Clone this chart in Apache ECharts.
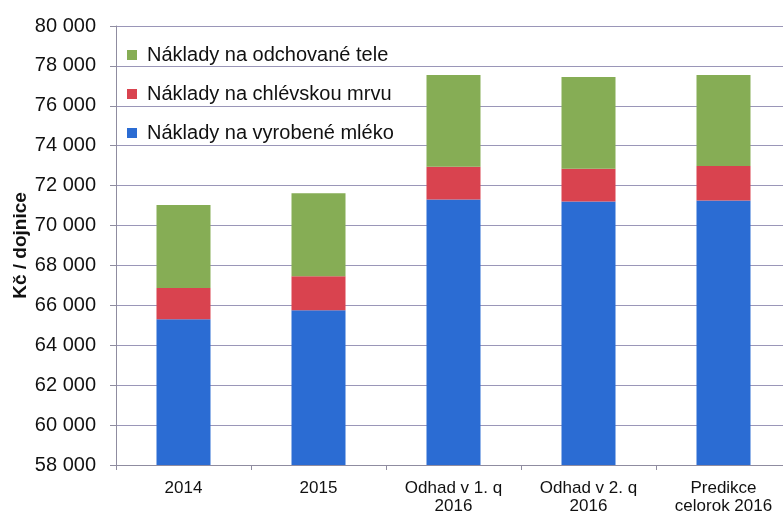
<!DOCTYPE html>
<html>
<head>
<meta charset="utf-8">
<script src="https://cdn.jsdelivr.net/npm/echarts@6/dist/echarts.min.js"></script>
<style>
  html, body { margin: 0; padding: 0; background: #fff; }
  #main { width: 783px; height: 512px; }
</style>
</head>
<body>
<div id="main"></div>
<script>
// kategorie a hodnoty (Kč / dojnice), odčítané z grafu
const categories = ['2014', '2015', 'Odhad v 1. q\n2016', 'Odhad v 2. q\n2016', 'Predikce\ncelorok 2016'];
const mlieko = [65300, 65750, 71300, 71200, 71250];
const mrva = [1570, 1710, 1650, 1650, 1740];
const tele = [4160, 4160, 4600, 4600, 4560];
const seriesNames = ['Náklady na vyrobené mléko', 'Náklady na chlévskou mrvu', 'Náklady na odchované tele'];
const colors = ['#2b6cd3', '#d9434f', '#86ad55'];

const chart = echarts.init(document.getElementById('main'));
const font = 'Arial, "Liberation Sans", sans-serif';

const mkSeries = (name, data, color) => ({
  name: name,
  type: 'bar',
  stack: 'naklady',
  barWidth: 54,
  data: data,
  itemStyle: { color: color },
  emphasis: { disabled: true }
});

chart.setOption({
  animation: false,
  textStyle: { fontFamily: font },
  grid: { left: 116, top: 26, bottom: 47, width: 675, outerBoundsMode: 'none', containLabel: false },
  legend: {
    left: 122,
    top: 40,
    orient: 'vertical',
    itemWidth: 10,
    itemHeight: 10,
    itemGap: 19,
    icon: 'rect',
    data: [seriesNames[2], seriesNames[1], seriesNames[0]],
    textStyle: { fontSize: 20, color: '#111', fontFamily: font, padding: [0, 0, 0, 5] }
  },
  xAxis: {
    type: 'category',
    data: categories,
    axisLine: { lineStyle: { color: '#8f8ca0' } },
    axisTick: { show: true, length: 5, lineStyle: { color: '#8f8ca0' } },
    axisLabel: { fontSize: 17, color: '#111', lineHeight: 18, margin: 14 }
  },
  yAxis: {
    type: 'value',
    min: 58000,
    max: 80000,
    interval: 2000,
    name: 'Kč / dojnice',
    nameLocation: 'middle',
    nameGap: 86,
    nameMoveOverlap: false,
    nameTextStyle: { fontSize: 19, fontWeight: 'bold', color: '#111' },
    axisLine: { show: true, lineStyle: { color: '#8f8ca0' } },
    axisTick: { show: true, length: 6, lineStyle: { color: '#8f8ca0' } },
    splitLine: { lineStyle: { color: '#9a96b8', width: 1 } },
    axisLabel: {
      fontSize: 20,
      color: '#111',
      margin: 20,
      formatter: v => String(v).replace(/\B(?=(\d{3})+(?!\d))/g, ' ')
    }
  },
  series: [
    mkSeries(seriesNames[0], mlieko, colors[0]),
    mkSeries(seriesNames[1], mrva, colors[1]),
    mkSeries(seriesNames[2], tele, colors[2])
  ]
});
</script>
</body>
</html>
